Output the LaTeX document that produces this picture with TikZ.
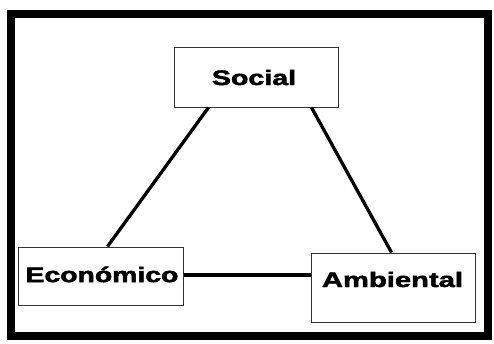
\documentclass[tikz,border=0pt]{standalone}
\usepackage{fontspec}
\setmainfont{Liberation Sans}
\newfontfamily\heavyfont{Liberation Sans}[BoldFont={Liberation Sans Bold},BoldFeatures={FakeBold=2}]
\begin{document}
\begin{tikzpicture}[x=1pt,y=-1pt,
  box/.style={draw=black!80,line width=1pt,inner sep=0pt},
  lbl/.style={font=\heavyfont\fontsize{21}{21}\selectfont\bfseries,inner sep=0pt},
  link/.style={line width=3.3pt}]
\useasboundingbox (0,0) rectangle (494,343);
\draw[line width=8pt] (11,14) rectangle (488,336);
\node[box,minimum width=164pt,minimum height=60pt] (soc) at (256,77) {};
\node[box,minimum width=165pt,minimum height=58pt] (eco) at (100.5,276) {};
\node[box,minimum width=164pt,minimum height=69pt] (amb) at (393,287.5) {};
\node[lbl] (tsoc) at (254,77.5) {\scalebox{1.36}[1]{Social}};
\node[lbl] (teco) at (102,274.5) {\scalebox{1.35}[1]{Económico}};
\node[lbl] (tamb) at (392.5,279.5) {\scalebox{1.39}[1]{Ambiental}};
\draw[link] ([xshift=35pt]soc.south west) -- ([xshift=90pt]eco.north west);
\draw[link] ([xshift=138pt]soc.south west) -- ([xshift=81pt]amb.north west);
\draw[link] ([yshift=1pt]eco.east) -- ([yshift=1pt]eco.east -| amb.west);
\end{tikzpicture}
\end{document}
